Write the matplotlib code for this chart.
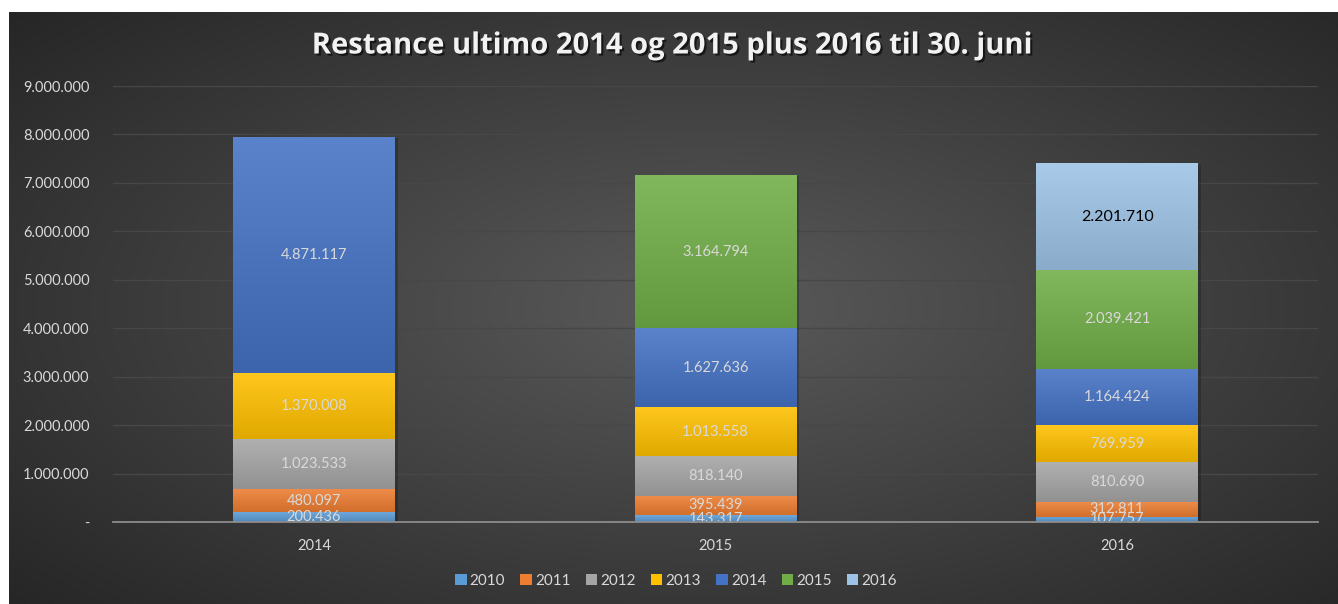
import matplotlib.pyplot as plt
import matplotlib.colors as mcolors
import matplotlib.patheffects as pe
from matplotlib.patches import Patch
from matplotlib.ticker import FuncFormatter
import numpy as np

# data
years = ["2014", "2015", "2016"]
series_names = ["2010", "2011", "2012", "2013", "2014", "2015", "2016"]
v2010 = [200436, 143317, 107757]
v2011 = [480097, 395439, 312811]
v2012 = [1023533, 818140, 810690]
v2013 = [1370008, 1013558, 769959]
v2014 = [4871117, 1627636, 1164424]
v2015 = [0, 3164794, 2039421]
v2016 = [0, 0, 2201710]
series = [v2010, v2011, v2012, v2013, v2014, v2015, v2016]
colors = ["#5B9BD5", "#ED7D31", "#A5A5A5", "#FFC000", "#4472C4", "#70AD47", "#9DC3E6"]
title = "Restance ultimo 2014 og 2015 plus 2016 til 30. juni"

plt.rcParams['font.family'] = ['Lato', 'DejaVu Sans']

W, H = 1338, 604
fig = plt.figure(figsize=(W / 100, H / 100), dpi=100)
fig.patch.set_facecolor('white')

# dark radial background of the chart area
bg = fig.add_axes([9 / W, 0, 1 - 9 / W, 1 - 12 / H])
bg.set_axis_off()
yy, xx = np.mgrid[-1:1:300j, -1:1:600j]
r = np.sqrt(((xx - 0.05) * 0.95) ** 2 + (yy * 0.9) ** 2)
shade = np.clip(1 - r / 1.35, 0, 1)
bg_cmap = mcolors.LinearSegmentedColormap.from_list("bg", ["#262626", "#5a5a5a"])
bg.imshow(shade, cmap=bg_cmap, aspect='auto', extent=[0, 1, 0, 1], vmin=0, vmax=1)
bg.set_xlim(0, 1)
bg.set_ylim(0, 1)

ax = fig.add_axes([113 / W, (H - 522) / H, 1205 / W, (522 - 86) / H])
ax.set_facecolor('none')

x = np.arange(len(years))
width = 0.403
bottom = np.zeros(len(years))


def shade_color(c, f):
    rgb = np.array(mcolors.to_rgb(c))
    if f > 0:
        return tuple(rgb + (1 - rgb) * f)
    return tuple(rgb * (1 + f))


shadow = [pe.SimplePatchShadow(offset=(2, -1), shadow_rgbFace='black', alpha=0.2), pe.Normal()]
for name, vals, col in zip(series_names, series, colors):
    vals = np.array(vals, dtype=float)
    bars = ax.bar(x, vals, width, bottom=bottom, color=col, zorder=3, linewidth=0,
                  path_effects=shadow)
    cm = mcolors.LinearSegmentedColormap.from_list(
        "g" + name, [shade_color(col, -0.12), shade_color(col, 0.12)])
    for b, v in zip(bars, vals):
        if v <= 0:
            continue
        x0, y0 = b.get_x(), b.get_y()
        grad = np.linspace(0, 1, 100).reshape(-1, 1)
        im = ax.imshow(grad, cmap=cm, aspect='auto', origin='lower',
                       extent=[x0, x0 + b.get_width(), y0, y0 + b.get_height()], zorder=3.5)
        im.set_clip_path(b)
        lbl = f"{int(v):,}".replace(",", ".")
        if name == "2016":
            ax.text(b.get_x() + b.get_width() / 2, y0 + v / 2, lbl, ha='center', va='center',
                    color='black', fontsize=11.5, zorder=5)
        else:
            ax.text(b.get_x() + b.get_width() / 2, y0 + v / 2, lbl, ha='center', va='center',
                    color='#d9d9d9', fontsize=10.5, zorder=5)
    bottom += vals

ax.set_xlim(-0.5, len(years) - 0.5)
ax.set_ylim(0, 9000000)
ax.set_yticks(np.arange(0, 9000001, 1000000))
ax.yaxis.set_major_formatter(FuncFormatter(
    lambda v, p: "-" if v == 0 else f"{int(v):,}".replace(",", ".")))
ax.set_xticks(x)
ax.set_xticklabels(years)
ax.tick_params(axis='both', length=0, colors='#d9d9d9', labelsize=10.5)
ax.tick_params(axis='y', pad=17)
ax.tick_params(axis='x', pad=12)
ax.grid(axis='y', color='#474747', linewidth=1, zorder=1)
for s in ['top', 'right', 'left']:
    ax.spines[s].set_visible(False)
ax.spines['bottom'].set_color('#8c8c8c')
ax.spines['bottom'].set_linewidth(1.3)
ax.spines['bottom'].set_zorder(6)

fig.text(672 / W, 1 - 46 / H, title,
         ha='center', va='center', fontsize=21, fontweight='bold', color='#f2f2f2',
         family=['Open Sans', 'DejaVu Sans'],
         path_effects=[pe.withSimplePatchShadow(offset=(1.5, -1.5), shadow_rgbFace='black', alpha=0.6)])

handles = [Patch(facecolor=c, label=n) for n, c in zip(series_names, colors)]
leg = fig.legend(handles=handles, loc='center', bbox_to_anchor=(676 / W, 1 - 581 / H), ncol=7,
                 frameon=False, fontsize=11, handlelength=0.75, handleheight=0.75,
                 handletextpad=0.2, columnspacing=1.0)
for t in leg.get_texts():
    t.set_color('#d9d9d9')

fig.savefig("out.png", dpi=100)
